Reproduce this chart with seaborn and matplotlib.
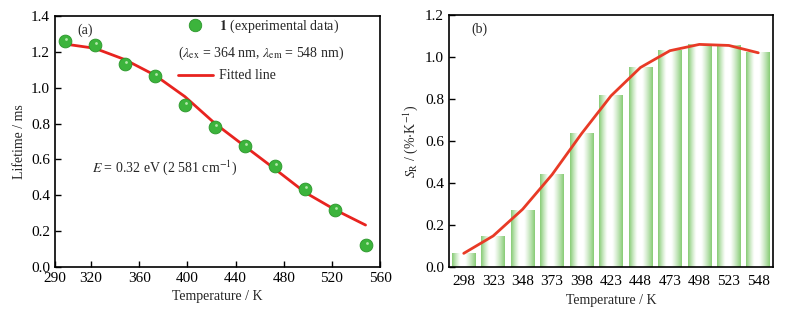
import numpy as np
import seaborn as sns
import matplotlib.pyplot as plt
import matplotlib.transforms as mtransforms
from matplotlib.lines import Line2D

# --- datos ---
temps = [298, 323, 348, 373, 398, 423, 448, 473, 498, 523, 548]
lifetime = [1.26, 1.24, 1.135, 1.065, 0.905, 0.78, 0.675, 0.565, 0.435, 0.32, 0.12]

fit_temps = [300, 323, 348, 373, 398, 423, 448, 473, 498, 523, 548]
fit_lifetime = [1.242, 1.220, 1.157, 1.070, 0.950, 0.800, 0.672, 0.545, 0.415, 0.318, 0.234]

sr_bars = [0.066, 0.146, 0.273, 0.445, 0.639, 0.817, 0.952, 1.032, 1.062, 1.055, 1.024]
sr_line = [0.065, 0.148, 0.275, 0.440, 0.635, 0.815, 0.950, 1.030, 1.060, 1.055, 1.020]

a_xticks = [290, 320, 360, 400, 440, 480, 520, 560]

sns.set_theme(style='ticks')
plt.rcParams['font.family'] = ['Liberation Serif', 'DejaVu Serif']
plt.rcParams['mathtext.fontset'] = 'stix'
plt.rcParams['font.size'] = 10

RED = '#e8231f'
GREEN = '#3cb43c'
TICK_FS = 11

fig = plt.figure(figsize=(7.91, 3.19), dpi=100)
ax1 = fig.add_axes([55 / 791, 52 / 319, 325 / 791, 251 / 319])
ax2 = fig.add_axes([449 / 791, 52 / 319, 324 / 791, 252 / 319])

# ---------------- (a) ----------------
sns.lineplot(x=fit_temps, y=fit_lifetime, color=RED, lw=2, ax=ax1, zorder=2)
sns.scatterplot(x=temps, y=lifetime, s=85, color=GREEN, edgecolor='#2a962a',
                linewidth=0.6, ax=ax1, zorder=3)
# brillo de las esferas
sns.scatterplot(x=temps, y=lifetime, s=4, color='#b4e8aa', linewidth=0,
                ax=ax1, zorder=4)
hl = ax1.collections[-1]
hl.set_offset_transform(ax1.transData + mtransforms.ScaledTranslation(1 / 100, 2 / 100, fig.dpi_scale_trans))

ax1.set_xlim(290, 560)
ax1.set_ylim(0, 1.4)
ax1.set_xticks(a_xticks)
ax1.set_yticks(np.arange(0, 1.41, 0.2))
ax1.set_yticklabels([f'{v:.1f}' for v in np.arange(0, 1.41, 0.2)])
ax1.set_xlabel('Temperature / K', fontsize=10)
ax1.set_ylabel('Lifetime / ms', fontsize=10)
ax1.text(0.07, 0.944, '(a)', transform=ax1.transAxes, va='center', fontsize=10)
ax1.text(0.114, 0.398, r'$E$ = 0.32 eV (2 581 cm$^{-1}$)', transform=ax1.transAxes,
         va='center', fontsize=10)

handles = [
    Line2D([], [], marker='o', ls='', markersize=9, markerfacecolor=GREEN,
           markeredgecolor='#2a962a', markeredgewidth=0.6),
    Line2D([], [], color=RED, lw=2),
]
labels = [r'$\mathbf{1}$ (experimental data)', 'Fitted line']
ax1.legend(handles, labels, loc='upper left', bbox_to_anchor=(0.378, 0.992),
           frameon=False, borderpad=0, borderaxespad=0, handlelength=2.5,
           handletextpad=0.45, labelspacing=2.45, fontsize=10)
ax1.text(0.378, 0.853, r'($\lambda_{\mathrm{ex}}$ = 364 nm, $\lambda_{\mathrm{em}}$ = 548 nm)',
         transform=ax1.transAxes, va='center', fontsize=10)

# ---------------- (b) ----------------
sns.barplot(x=temps, y=sr_bars, native_scale=True, color='#8fcf7f', ax=ax2, zorder=1)

# relleno en degradado verde-blanco-verde
n = 64
pos = np.linspace(0, 1, n)
alpha = np.maximum((0.35 - pos) / 0.35, (pos - 0.55) / 0.45)
alpha = np.clip(alpha, 0, 1) ** 1.2
grad = np.zeros((1, n, 4))
grad[..., 0] = 0.53
grad[..., 1] = 0.80
grad[..., 2] = 0.46
grad[..., 3] = alpha
for p in ax2.patches:
    x0, y0, w, h = p.get_x(), p.get_y(), p.get_width(), p.get_height()
    p.set_facecolor('none')
    p.set_edgecolor('none')
    im = ax2.imshow(grad, extent=[x0, x0 + w, y0, y0 + h], aspect='auto',
                    zorder=1, interpolation='bilinear')
    im.set_clip_path(p)

sns.lineplot(x=temps, y=sr_line, color='#e83a26', lw=2, ax=ax2, zorder=3)

ax2.set_xlim(285.5, 560.5)
ax2.set_ylim(0, 1.2)
ax2.set_xticks(temps)
ax2.set_xticklabels([str(t) for t in temps])
ax2.set_yticks(np.arange(0, 1.21, 0.2))
ax2.set_yticklabels([f'{v:.1f}' for v in np.arange(0, 1.21, 0.2)])
ax2.set_xlabel('Temperature / K', fontsize=10)
ax2.set_ylabel(r'$S_{\mathrm{R}}$ / (%$\cdot$K$^{-1}$)', fontsize=10)
ax2.text(0.07, 0.944, '(b)', transform=ax2.transAxes, va='center', fontsize=10)

for ax in (ax1, ax2):
    for s in ax.spines.values():
        s.set_visible(True)
        s.set_linewidth(1.2)
        s.set_color('black')
    ax.tick_params(direction='in', length=4, width=1, labelsize=TICK_FS, colors='black')
ax2.tick_params(axis='x', length=0, pad=6)

fig.savefig('out.png', dpi=100)
